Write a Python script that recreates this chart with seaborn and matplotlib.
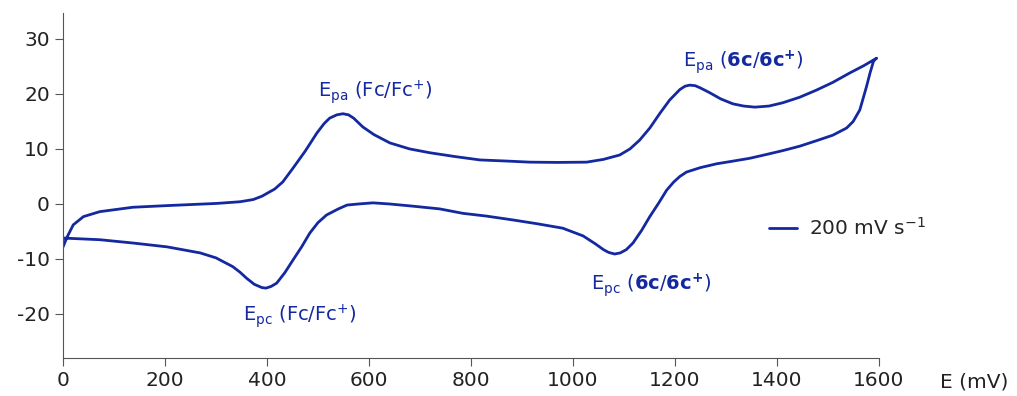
import pandas as pd
import matplotlib.pyplot as plt
import seaborn as sns

# forward (anodic) scan, E in mV, current
E_fwd = [0, 8, 20, 40, 72, 137, 204, 302, 347, 373, 390, 415, 431, 451, 475,
         498, 512, 523, 537, 549, 560, 570, 588, 610, 641, 680, 720, 770, 818,
         870, 916, 970, 1027, 1060, 1092, 1112, 1131, 1151, 1171, 1190, 1210,
         1220, 1229, 1240, 1250, 1269, 1290, 1314, 1335, 1357, 1385, 1412, 1445,
         1478, 1510, 1543, 1570, 1596]
I_fwd = [-7.8, -6.0, -3.8, -2.3, -1.4, -0.6, -0.3, 0.1, 0.4, 0.8, 1.4, 2.7, 4.0,
         6.5, 9.6, 12.9, 14.6, 15.6, 16.2, 16.4, 16.2, 15.6, 14.0, 12.6, 11.1,
         10.0, 9.3, 8.6, 8.0, 7.8, 7.6, 7.55, 7.6, 8.1, 8.9, 10.0, 11.6, 13.8,
         16.5, 18.9, 20.8, 21.4, 21.6, 21.5, 21.1, 20.2, 19.1, 18.2, 17.8, 17.6,
         17.8, 18.4, 19.4, 20.7, 22.1, 23.8, 25.1, 26.5]

# reverse (cathodic) scan
E_rev = [1596, 1590, 1583, 1576, 1563, 1550, 1537, 1510, 1478, 1445, 1412, 1380,
         1347, 1315, 1282, 1250, 1223, 1210, 1198, 1184, 1168, 1151, 1135, 1118,
         1105, 1093, 1082, 1070, 1060, 1045, 1020, 980, 930, 882, 830, 784, 739,
         686, 640, 608, 580, 557, 540, 517, 500, 484, 468, 451, 435, 419, 408,
         398, 390, 375, 360, 347, 333, 300, 269, 204, 137, 72, 0]
I_rev = [26.5, 26.0, 23.8, 21.3, 17.1, 15.0, 13.8, 12.5, 11.5, 10.5, 9.7, 9.0,
         8.3, 7.8, 7.3, 6.6, 5.8, 5.0, 4.0, 2.5, 0.1, -2.3, -4.8, -7.1, -8.3,
         -8.9, -9.1, -8.8, -8.3, -7.3, -5.8, -4.4, -3.6, -2.9, -2.2, -1.7, -0.9,
         -0.4, 0.0, 0.2, 0.0, -0.2, -0.9, -2.0, -3.4, -5.3, -7.8, -10.2, -12.5,
         -14.4, -15.0, -15.3, -15.2, -14.6, -13.5, -12.4, -11.4, -9.8, -8.9,
         -7.8, -7.1, -6.5, -6.2]

df = pd.DataFrame({"E": E_fwd + E_rev, "I": I_fwd + I_rev})

blue = "#1428a0"

sns.set_style("ticks")
plt.rcParams["font.family"] = ["DejaVu Sans"]
plt.rcParams["mathtext.fontset"] = "dejavusans"
plt.rcParams["axes.unicode_minus"] = False

fig, ax = plt.subplots(figsize=(10.17, 3.96), dpi=100)
fig.subplots_adjust(left=0.062, right=0.864, bottom=0.096, top=0.967)

sns.lineplot(data=df, x="E", y="I", sort=False, estimator=None, color=blue,
             linewidth=2, label="200 mV s$^{-1}$", ax=ax)

ax.set_xlim(0, 1600)
ax.set_ylim(-28, 34.7)
ax.set_xticks(range(0, 1601, 200))
ax.set_yticks([-20, -10, 0, 10, 20, 30])
ax.set_xlabel("")
ax.set_ylabel("")
sns.despine(ax=ax)
for s in ["left", "bottom"]:
    ax.spines[s].set_color("#555555")
ax.tick_params(colors="#555555", labelcolor="#222222", labelsize=14.5, length=6)

# peak labels
lab_fc_a = "E$_{\\mathrm{pa}}$ (Fc/Fc$^{+}$)"
lab_fc_c = "E$_{\\mathrm{pc}}$ (Fc/Fc$^{+}$)"
lab_6c_a = "E$_{\\mathrm{pa}}$ ($\\mathbf{6c}$/$\\mathbf{6c}^{\\mathbf{+}}$)"
lab_6c_c = "E$_{\\mathrm{pc}}$ ($\\mathbf{6c}$/$\\mathbf{6c}^{\\mathbf{+}}$)"
ax.text(612, 20.4, lab_fc_a, color=blue, fontsize=14, ha="center", va="center")
ax.text(465, -20.4, lab_fc_c, color=blue, fontsize=14, ha="center", va="center")
ax.text(1335, 25.8, lab_6c_a, color=blue, fontsize=14, ha="center", va="center")
ax.text(1153, -14.7, lab_6c_c, color=blue, fontsize=14, ha="center", va="center")

leg = ax.legend(loc="center left", bbox_to_anchor=(0.843, 0.377), frameon=False,
                fontsize=14.5, handlelength=1.4, handletextpad=0.6)

fig.text(940 / 1017, 1 - 382 / 396, "E (mV)", fontsize=14.5, color="#222222",
         va="center", ha="left")

fig.savefig("out.png", dpi=100)
